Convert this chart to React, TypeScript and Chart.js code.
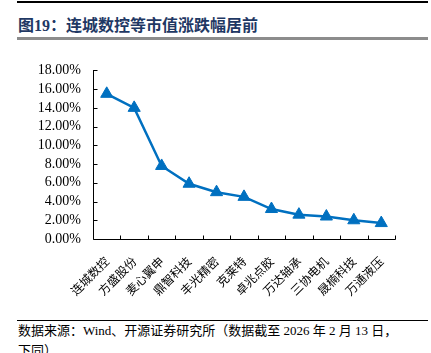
import React, { useEffect, useRef } from "react";
import { Chart, registerables } from "chart.js";

Chart.register(...registerables);

const categories = ["连城数控", "方盛股份", "麦心翼申", "鼎智科技", "丰光精密", "克莱特", "卓兆点胶", "万达轴承", "三协电机", "晟楠科技", "万通液压"];
const changes = [15.5, 14.0, 7.8, 5.9, 5.0, 4.5, 3.2, 2.6, 2.4, 2.0, 1.7];
const yTicks = [0, 2, 4, 6, 8, 10, 12, 14, 16, 18];

const BLUE = "#0070C0";

const innerTicks = {
  id: "innerTicks",
  afterDraw(chart: any) {
    const { ctx, chartArea } = chart;
    const y = chart.scales.y;
    ctx.save();
    ctx.strokeStyle = "#000";
    ctx.lineWidth = 1;
    ctx.beginPath();
    const L = Math.round(chartArea.left) + 0.5;
    const B = Math.round(chartArea.bottom) + 0.5;
    ctx.moveTo(L, Math.round(chartArea.top));
    ctx.lineTo(L, B);
    ctx.lineTo(Math.round(chartArea.right) + 0.5, B);
    for (const v of yTicks) {
      const py = Math.round(y.getPixelForValue(v)) + 0.5;
      ctx.moveTo(L, py);
      ctx.lineTo(L + 4, py);
    }
    const n = categories.length;
    const w = (chartArea.right - chartArea.left) / n;
    for (let i = 1; i <= n; i++) {
      const px = Math.round(chartArea.left + w * i) + 0.5;
      ctx.moveTo(px, B);
      ctx.lineTo(px, B - 4);
    }
    ctx.stroke();
    ctx.restore();
  },
};

export default function App() {
  const ref = useRef<HTMLCanvasElement>(null);
  useEffect(() => {
    const chart = new Chart(ref.current!, {
      type: "line",
      data: {
        labels: categories,
        datasets: [
          {
            data: changes,
            borderColor: BLUE,
            backgroundColor: BLUE,
            borderWidth: 2.5,
            pointStyle: "triangle",
            pointRadius: 7,
            pointBorderWidth: 1,
            pointBorderColor: BLUE,
            tension: 0,
          },
        ],
      },
      options: {
        animation: false,
        responsive: false,
        layout: { padding: { top: 9, right: 36, left: 0, bottom: 0 } },
        plugins: { legend: { display: false }, tooltip: { enabled: false } },
        scales: {
          x: {
            offset: true,
            grid: { display: false, drawTicks: false },
            border: { display: false },
            ticks: {
              maxRotation: 45,
              minRotation: 45,
              padding: 15,
              autoSkip: false,
              color: "#000",
              font: { family: "'Noto Sans CJK SC', sans-serif", size: 12 },
            },
            afterFit: (s: any) => {
              s.height = 71;
            },
          },
          y: {
            min: 0,
            max: 18,
            afterBuildTicks: (s: any) => {
              s.ticks = yTicks.map((v) => ({ value: v }));
            },
            grid: { display: false, drawTicks: false },
            border: { display: false },
            ticks: {
              padding: 12,
              autoSkip: false,
              color: "#000",
              font: { family: "'Liberation Serif', serif", size: 14 },
              callback: (v: any) => Number(v).toFixed(2) + "%",
            },
            afterFit: (s: any) => {
              s.width = 93;
            },
          },
        },
      },
      plugins: [innerTicks],
    });
    return () => chart.destroy();
  }, []);

  return (
    <div style={{ position: "fixed", left: 0, top: 0, width: 431, height: 353, background: "#fff", overflow: "hidden" }}>
      <div style={{ position: "absolute", left: 17, top: 1, width: 411, height: 2, background: "#000" }} />
      <div
        style={{
          position: "absolute",
          left: 18,
          top: 16,
          fontFamily: "'Liberation Serif', 'Noto Sans CJK SC', serif",
          fontWeight: "bold",
          fontSize: 16,
          color: "#1F3864",
          whiteSpace: "nowrap",
          lineHeight: "20px",
        }}
      >
        图19：连城数控等市值涨跌幅居前
      </div>
      <div style={{ position: "absolute", left: 17, top: 37, width: 411, height: 2.5, background: "#8c8c8c" }} />
      <canvas ref={ref} width={431} height={260} style={{ position: "absolute", left: 0, top: 50, width: 431, height: 260 }} />
      <div style={{ position: "absolute", left: 17, top: 320, width: 411, height: 1, background: "#000" }} />
      <div
        style={{
          position: "absolute",
          left: 18,
          top: 321,
          fontFamily: "'Liberation Serif', 'Noto Sans CJK SC', serif",
          fontSize: 13,
          color: "#000",
          whiteSpace: "nowrap",
          lineHeight: "20px",
        }}
      >
        数据来源：Wind、开源证券研究所（数据截至 2026 年 2 月 13 日，
        <br />
        下同）
      </div>
    </div>
  );
}
